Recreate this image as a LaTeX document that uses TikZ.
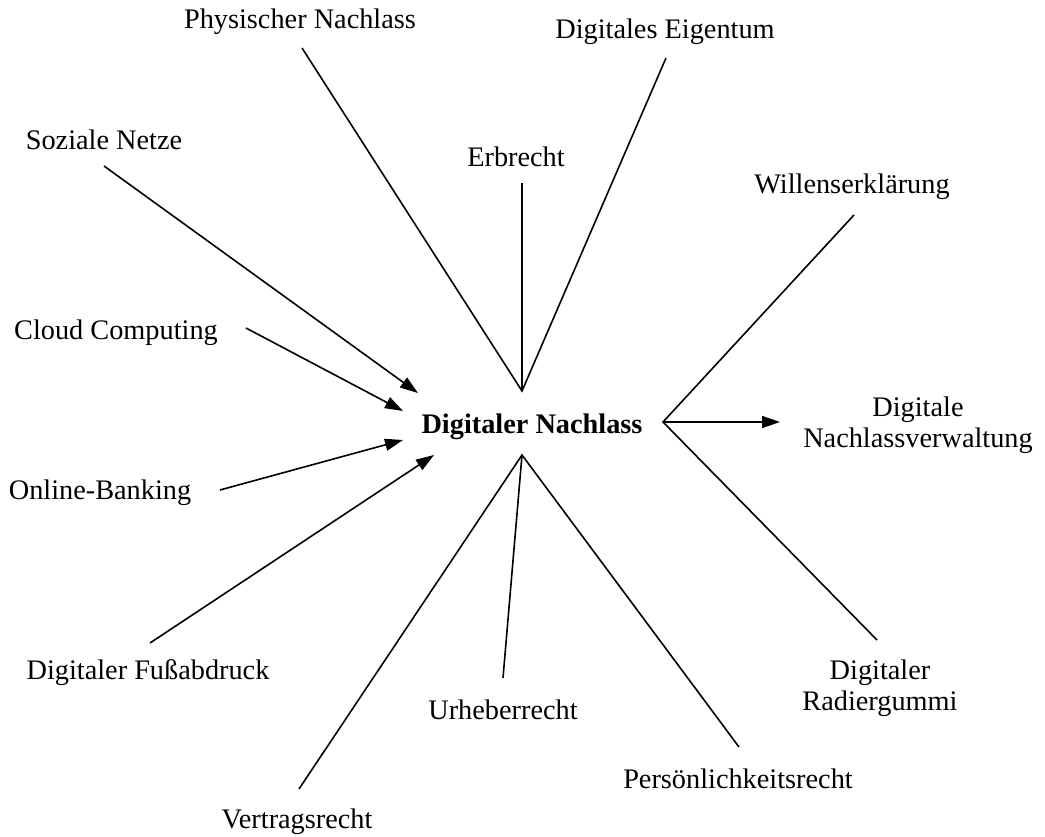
\documentclass[tikz,border=0pt]{standalone}
\usepackage{fontspec}
\setmainfont{Liberation Serif}
\usetikzlibrary{arrows.meta}
\begin{document}
\begin{tikzpicture}[x=1pt,y=-1pt,
  lbl/.style={font=\fontsize{28.3}{31}\selectfont, inner sep=0pt, align=center},
  conn/.style={line width=1.6pt},
  arr/.style={conn, -{Triangle[length=18pt,width=12pt]}}]
\useasboundingbox (0,0) rectangle (1045,837);
% labels
\node[lbl] (phys) at (300,22) {Physischer Nachlass};
\node[lbl] (eig) at (665,32) {Digitales Eigentum};
\node[lbl] (soz) at (104,140) {Soziale Netze};
\node[lbl] (erb) at (516,157) {Erbrecht};
\node[lbl] (will) at (852,187) {Willenserklärung};
\node[lbl] (cloud) at (116,333) {Cloud Computing};
\node[lbl, font=\fontsize{28.3}{31}\selectfont\bfseries] (dn) at (532,427) {Digitaler Nachlass};
\node[lbl] (verw) at (918,425) {Digitale\\Nachlassverwaltung};
\node[lbl] (bank) at (100,493) {Online-Banking};
\node[lbl] (fuss) at (148,673) {Digitaler Fußabdruck};
\node[lbl] (urh) at (503,710) {Urheberrecht};
\node[lbl] (rad) at (880,688) {Digitaler\\Radiergummi};
\node[lbl] (pers) at (738,779) {Persönlichkeitsrecht};
\node[lbl] (vert) at (297,822) {Vertragsrecht};
% hubs
\coordinate (top) at (522,391);
\coordinate (bot) at (522,455);
\coordinate (rgt) at (663,422);
% line ends near labels
\coordinate (physE) at (302,48);
\coordinate (eigE) at (666,58);
\coordinate (erbE) at (522,183);
\coordinate (willE) at (854,215);
\coordinate (radE) at (877,640);
\coordinate (vertE) at (299,789);
\coordinate (urhE) at (503,678);
\coordinate (persE) at (739,747);
\coordinate (sozE) at (104,166);
\coordinate (cloudE) at (246,328);
\coordinate (bankE) at (220,490);
\coordinate (fussE) at (150,643);
\coordinate (sozT) at (418,393);
\coordinate (cloudT) at (403,411);
\coordinate (bankT) at (403,440);
\coordinate (fussT) at (434,455);
\coordinate (verwT) at (780,422);
% connectors
\draw[conn] (physE) -- (top) -- (eigE);
\draw[conn] (erbE) -- (top);
\draw[conn] (willE) -- (rgt) -- (radE);
\draw[arr] (rgt) -- (verwT);
\draw[conn] (vertE) -- (bot) -- (persE);
\draw[conn] (urhE) -- (bot);
\draw[arr] (sozE) -- (sozT);
\draw[arr] (cloudE) -- (cloudT);
\draw[arr] (bankE) -- (bankT);
\draw[arr] (fussE) -- (fussT);
\end{tikzpicture}
\end{document}
